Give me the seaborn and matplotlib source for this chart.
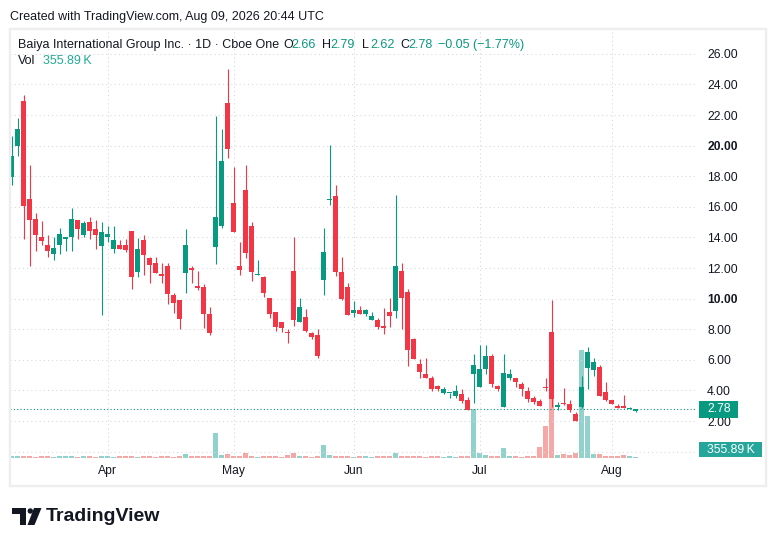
import matplotlib
matplotlib.use("Agg")
from matplotlib import pyplot as plt
from matplotlib.patches import Rectangle, Polygon, Circle
from matplotlib.transforms import Affine2D
import numpy as np
import pandas as pd
import seaborn as sns

W, H = 776, 546

# daily bars, Cboe One, holidays skipped
holidays = ["2026-04-03", "2026-05-25", "2026-06-19", "2026-07-03"]
dates = pd.bdate_range("2026-03-10", "2026-08-07", freq="C", holidays=holidays)

opens = [17.98, 20.00, 22.91, 16.52, 15.22, 14.04, 13.52, 12.89, 13.48, 13.87,
         14.00, 15.15, 14.17, 15.02, 14.57, 13.41, 14.00, 13.26, 13.52, 13.52,
         14.43, 11.74, 13.80, 12.63, 12.30, 11.59, 12.11, 10.22, 9.89, 11.67,
         12.00, 10.83, 10.76, 9.00, 13.39, 14.76, 22.76, 16.24, 12.13, 17.09,
         14.74, 11.55, 11.41, 10.04, 9.13, 8.48, 7.85, 11.80, 8.50, 8.80,
         7.78, 7.59, 11.24, 16.45, 16.70, 11.76, 10.76, 9.09, 9.26, 9.02,
         8.63, 8.61, 8.24, 9.13, 9.20, 11.80, 10.43, 7.35, 5.72, 5.04,
         4.84, 4.32, 3.86, 3.80, 3.66, 3.79, 3.40, 5.10, 4.19, 5.43,
         6.22, 4.32, 2.94, 4.78, 4.84, 4.45, 3.93, 3.53, 3.34, 4.20,
         7.79, 2.94, 3.14, 3.08, 2.49, 2.92, 5.46, 5.33, 5.53, 3.91,
         3.40, 2.95, 3.01, 2.80, 2.66]
highs = [20.63, 21.80, 23.30, 18.74, 15.61, 15.09, 14.17, 14.04, 14.61, 14.04,
         15.93, 15.15, 15.04, 15.35, 15.15, 15.02, 14.76, 14.76, 13.85, 13.91,
         14.43, 13.98, 14.13, 12.70, 12.70, 12.30, 12.30, 10.35, 9.89, 14.52,
         12.11, 11.80, 10.93, 9.43, 21.93, 21.07, 24.98, 18.61, 13.72, 18.72,
         15.00, 12.52, 11.48, 10.04, 9.13, 8.48, 8.02, 14.02, 10.04, 9.33,
         7.85, 8.02, 14.61, 20.02, 17.41, 12.72, 11.02, 9.85, 9.52, 9.33,
         9.13, 8.74, 9.41, 10.04, 16.76, 12.33, 10.63, 7.43, 6.02, 6.09,
         4.91, 4.38, 4.19, 3.86, 4.38, 4.06, 3.60, 6.41, 6.94, 6.94,
         6.41, 4.38, 6.35, 5.37, 4.84, 4.52, 4.19, 3.66, 3.47, 4.78,
         9.89, 3.27, 4.17, 3.40, 2.56, 4.95, 6.82, 6.11, 5.66, 4.56,
         3.40, 3.14, 3.72, 2.90, 2.79]
lows = [17.43, 19.35, 13.91, 12.11, 13.13, 13.48, 12.70, 12.54, 12.89, 13.09,
        13.09, 13.87, 14.04, 13.87, 13.26, 8.96, 13.72, 12.96, 13.26, 13.07,
        10.61, 11.41, 11.54, 11.02, 11.67, 11.02, 9.65, 9.07, 8.02, 10.37,
        11.02, 10.57, 8.09, 7.63, 12.28, 14.61, 19.17, 14.37, 11.54, 12.65,
        11.17, 11.54, 10.13, 8.76, 7.91, 7.85, 7.13, 8.20, 8.50, 7.85,
        7.39, 6.15, 10.26, 16.13, 11.50, 9.93, 8.96, 8.83, 9.02, 8.89,
        8.57, 8.04, 7.67, 8.17, 8.76, 8.04, 5.57, 6.05, 4.78, 4.84,
        3.93, 3.93, 3.79, 3.53, 3.53, 3.20, 2.75, 3.20, 4.19, 5.04,
        4.19, 3.93, 2.94, 4.65, 4.19, 3.66, 3.27, 3.14, 3.01, 3.93,
        2.94, 2.75, 3.03, 2.60, 2.00, 2.82, 4.11, 4.97, 3.61, 3.33,
        3.08, 2.82, 2.88, 2.77, 2.62]
closes = [19.33, 21.09, 16.02, 15.11, 14.13, 13.78, 13.09, 13.33, 14.24, 14.04,
          15.22, 14.52, 14.96, 14.39, 14.13, 14.37, 14.24, 13.85, 13.26, 13.20,
          11.39, 13.22, 12.85, 12.20, 11.67, 11.48, 10.30, 9.72, 8.67, 13.48,
          11.87, 10.70, 9.00, 7.76, 15.33, 18.98, 19.78, 14.37, 11.89, 13.00,
          11.76, 11.60, 10.39, 9.02, 8.17, 8.11, 7.72, 8.63, 9.46, 7.91,
          7.52, 6.22, 13.07, 16.50, 11.76, 9.98, 8.96, 9.26, 9.02, 9.26,
          8.87, 8.17, 8.11, 8.89, 12.13, 10.07, 6.67, 6.05, 5.19, 4.84,
          4.06, 4.06, 4.12, 3.86, 3.99, 3.34, 2.75, 5.63, 5.37, 6.28,
          4.45, 4.06, 5.17, 5.04, 4.52, 4.06, 3.47, 3.27, 3.01, 4.17,
          3.47, 3.07, 3.08, 2.71, 2.00, 4.24, 6.49, 5.85, 3.61, 3.40,
          3.14, 2.88, 2.88, 2.83, 2.78]
volume_m = [0.58, 0.55, 0.62, 0.57, 0.52, 0.55, 0.60, 0.54, 0.55, 0.57,
            0.61, 0.52, 0.55, 0.58, 0.54, 0.62, 0.55, 0.52, 0.57, 0.55,
            0.60, 0.54, 0.55, 0.58, 0.52, 0.55, 0.57, 0.54, 0.80, 1.40,
            0.58, 0.55, 0.60, 0.57, 9.00, 1.10, 1.40, 0.62, 0.58, 1.80,
            0.55, 0.52, 0.57, 0.58, 0.55, 0.54, 1.10, 1.80, 0.55, 0.58,
            0.54, 0.57, 4.70, 1.10, 0.62, 0.58, 0.55, 0.52, 0.57, 0.55,
            0.54, 0.58, 0.55, 0.60, 1.80, 0.57, 0.80, 0.55, 0.58, 0.54,
            0.55, 0.57, 0.52, 0.55, 0.54, 0.58, 0.55, 17.60, 1.80, 1.10,
            0.80, 0.57, 3.60, 0.55, 0.58, 0.54, 0.57, 0.55, 4.00, 11.50,
            34.20, 1.10, 1.40, 1.10, 1.80, 38.90, 15.10, 1.40, 1.40, 0.80,
            0.80, 0.80, 1.10, 0.55, 0.35589]

price_ticks = list(range(0, 27, 2))
bold_ticks = [10, 20]
last_price = 2.78
last_price_label = "2.78"
last_volume_label = "355.89\u2009K"
title = "Baiya International Group Inc. \u00b7 1D \u00b7 Cboe One"
ohlc_labels = [("O", "2.66"), ("H", "2.79"), ("L", "2.62"), ("C", "2.78")]
change_label = "\u22120.05 (\u22121.77%)"

UP, DOWN = "#089981", "#F23645"
VOL_UP, VOL_DOWN = "#26a69a", "#ef5350"
INK = "#131722"

df = pd.DataFrame({"date": dates, "open": opens, "high": highs,
                   "low": lows, "close": closes, "vol": np.array(volume_m) * 1e6})
df["idx"] = np.arange(len(df))
df["dir"] = np.where(df["close"] >= df["open"], "up", "down")
colors = np.where(df["dir"] == "up", UP, DOWN)

sns.set_theme(style="white")
plt.rcParams["font.family"] = ["Liberation Sans", "DejaVu Sans"]

fig = plt.figure(figsize=(W / 100, H / 100), dpi=100)
PX = Affine2D().scale(1 / W, -1 / H).translate(0, 1) + fig.transFigure

# plot area in pixels: x 10..697, y 30..458
ax = fig.add_axes([10 / W, 1 - 458 / H, 687 / W, 428 / H])
axv = ax.twinx()
ax.set_zorder(axv.get_zorder() + 1)
ax.patch.set_visible(False)

sns.barplot(data=df, x="idx", y="vol", hue="dir",
            palette={"up": VOL_UP, "down": VOL_DOWN}, native_scale=True,
            dodge=False, width=0.8, saturation=1, alpha=0.5, linewidth=0,
            errorbar=None, legend=False, ax=axv)
axv.set_ylim(0, 428 * 0.36e6)
axv.set_yticks([])
axv.set_ylabel("")
axv.set_xlabel("")

body_lo = np.minimum(df["open"], df["close"])
body_h = np.maximum((df["close"] - df["open"]).abs(), 0.07)
ax.vlines(df["idx"], df["low"], df["high"], colors=colors, lw=0.8, zorder=3)
ax.bar(df["idx"], body_h, bottom=body_lo, width=0.75, color=colors,
       linewidth=0, zorder=4)

ax.axhline(last_price, color=UP, lw=0.8, linestyle=(0, (1, 2)), zorder=2)

ax.set_xlim(-0.28, 114.22)
ax.set_ylim(-0.418, 27.556)

month_starts = [i for i in range(1, len(dates)) if dates[i].month != dates[i - 1].month]
ax.set_xticks(month_starts)
ax.set_xticklabels([dates[i].strftime("%b") for i in month_starts])
ax.yaxis.tick_right()
ax.set_yticks(price_ticks)
# 0.00 sits under the volume label box, so it is left blank
ax.set_yticklabels(["" if t == 0 else f"{t:.2f}" for t in price_ticks])
for t, lab in zip(price_ticks, ax.get_yticklabels()):
    if t in bold_ticks:
        lab.set_fontweight("bold")
ax.tick_params(axis="y", length=0, pad=7.3, labelsize=8.7, labelcolor=INK)
ax.tick_params(axis="x", length=0, pad=5, labelsize=8.7, labelcolor=INK)
ax.grid(True, color="#d4d6dc", lw=0.75, linestyle=(0, (1, 3)))
ax.set_xlabel("")
ax.set_ylabel("")
for a in (ax, axv):
    for s in a.spines.values():
        s.set_visible(False)

# frame around chart
fig.add_artist(Rectangle((9.5, 29), 756.5, 456.5, transform=PX, fill=False,
                         edgecolor="#eeeeee", lw=1.7, zorder=5))

# last price / last volume labels on the scale
fig.add_artist(Rectangle((699, 401), 39, 16.5, transform=PX, color=UP, lw=0,
                         zorder=10))
fig.text(707, 409.3, last_price_label, transform=PX, va="center", ha="left",
         color="white", fontsize=8.7, zorder=11)
fig.add_artist(Rectangle((699, 442.3), 63, 15, transform=PX, color=VOL_UP, lw=0,
                         zorder=10))
fig.text(707, 450, last_volume_label, transform=PX, va="center", ha="left",
         color="white", fontsize=8.7, zorder=11)

# header and legend
fig.text(10, 17, "Created with TradingView.com, Aug 09, 2026 20:44 UTC",
         transform=PX, va="center", color=INK, fontsize=9)
fig.text(18, 45, title, transform=PX, va="center", color=INK, fontsize=9)
xs = [283, 322, 362, 400]
for x0, (k, v) in zip(xs, ohlc_labels):
    fig.text(x0, 45, k, transform=PX, va="center", color=INK, fontsize=9)
    fig.text(x0 + 8.5, 45, v, transform=PX, va="center", color=UP, fontsize=9)
fig.text(438, 45, change_label, transform=PX, va="center", color=UP, fontsize=9)
fig.text(18, 61, "Vol", transform=PX, va="center", color=INK, fontsize=9)
fig.text(43, 61, last_volume_label, transform=PX, va="center", color="#22ab94",
         fontsize=9)

# footer logo
fig.add_artist(Polygon([(12, 508), (26, 508), (26, 525), (19.5, 525),
                        (19.5, 514), (12, 514)], closed=True, transform=PX,
                       color=INK, lw=0))
fig.add_artist(Circle((30.3, 511), 2.7, transform=PX, color=INK, lw=0))
fig.add_artist(Polygon([(34, 508), (41.5, 508), (34.5, 525), (27.5, 525)],
                       closed=True, transform=PX, color=INK, lw=0))
fig.text(46, 516.5, "TradingView", transform=PX, va="center", color=INK,
         fontsize=14, fontweight="bold")

fig.savefig("out.png", dpi=100, facecolor="white")
